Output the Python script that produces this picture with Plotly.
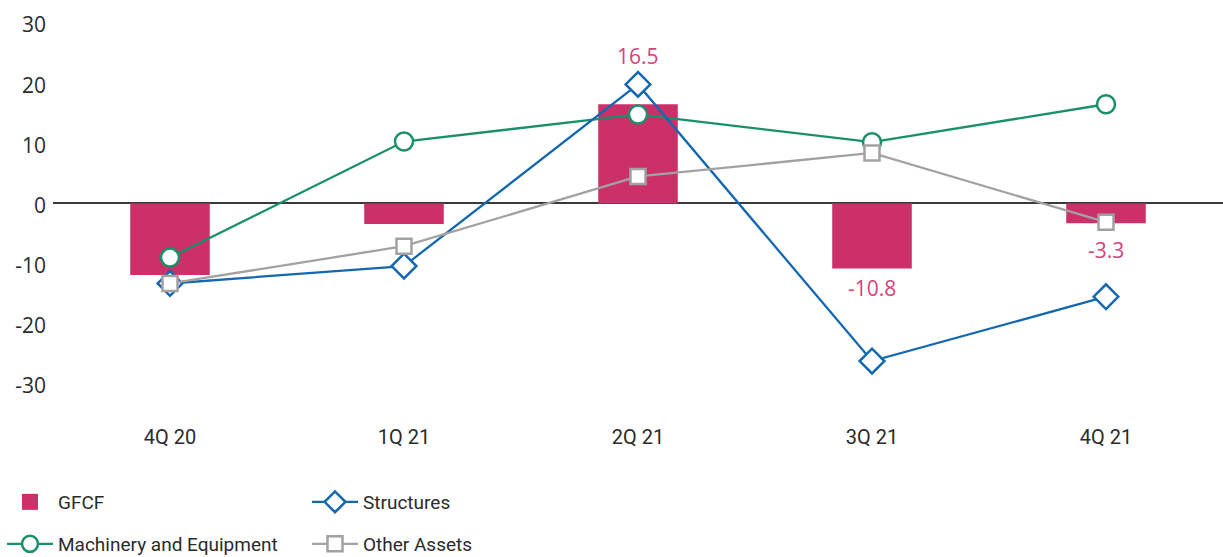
import plotly.graph_objects as go

quarters = ["4Q 20", "1Q 21", "2Q 21", "3Q 21", "4Q 21"]
gfcf = [-11.9, -3.4, 16.5, -10.8, -3.3]
machinery = [-9.0, 10.3, 14.8, 10.2, 16.5]
structures = [-13.3, -10.4, 19.8, -26.2, -15.5]
other_assets = [-13.3, -7.1, 4.5, 8.4, -3.1]

y_tick_values = [-30, -20, -10, 0, 10, 20, 30]
y_tick_labels = ["-30", "-20", "-10", "0", "10", "20", "30"]

# Quarters whose GFCF value is printed, with vertical offset in px
labelled = {"2Q 21": 48, "3Q 21": -20, "4Q 21": -27}

PINK = "#CC3069"
LABEL_PINK = "#D8427A"
GREEN = "#1A9066"
BLUE = "#1468B0"
GREY = "#A2A2A2"
TEXT = "#2b2b2b"

fig = go.Figure()

fig.add_trace(go.Bar(
    x=quarters, y=gfcf, name="GFCF", marker=dict(color=PINK, line=dict(width=0)),
    width=0.34, showlegend=False,
))
# legend swatch for the bars
fig.add_trace(go.Scatter(
    x=[None], y=[None], name="GFCF", mode="markers",
    marker=dict(symbol="square", size=22, color=PINK), legend="legend",
))
fig.add_trace(go.Scatter(
    x=quarters, y=machinery, name="Machinery and Equipment", mode="lines+markers",
    line=dict(color=GREEN, width=2.3),
    marker=dict(symbol="circle", size=18, color="white", line=dict(color=GREEN, width=2.5)),
    legend="legend2",
))
fig.add_trace(go.Scatter(
    x=quarters, y=structures, name="Structures", mode="lines+markers",
    line=dict(color=BLUE, width=2.3),
    marker=dict(symbol="diamond", size=19, color="white", line=dict(color=BLUE, width=2.5)),
    legend="legend3",
))
fig.add_trace(go.Scatter(
    x=quarters, y=other_assets, name="Other Assets", mode="lines+markers",
    line=dict(color=GREY, width=2.3),
    marker=dict(symbol="square", size=15, color="white", line=dict(color=GREY, width=2.5)),
    legend="legend4",
))

for q, shift in labelled.items():
    v = gfcf[quarters.index(q)]
    fig.add_annotation(
        x=q, y=v, text=f"{v:.1f}",
        showarrow=False, yshift=shift,
        font=dict(family="Open Sans, sans-serif", size=21, color=LABEL_PINK),
    )

legend_font = dict(family="Roboto, Open Sans, sans-serif", size=19, color=TEXT)
common = dict(orientation="h", bgcolor="rgba(0,0,0,0)", font=legend_font,
              xref="container", yref="container", itemwidth=46,
              xanchor="left", yanchor="middle", itemclick=False, itemdoubleclick=False)

row1 = (557 - 502) / 557
row2 = (557 - 544) / 557
col1 = 2 / 1223
col2 = 307 / 1223

fig.update_layout(
    width=1223, height=557,
    margin=dict(l=53, r=0, t=5, b=143),
    paper_bgcolor="white", plot_bgcolor="white",
    font=dict(family="Open Sans, sans-serif", size=20, color=TEXT),
    bargap=0.66,
    hovermode=False,
    showlegend=True,
    legend=dict(x=col1, y=row1, **common),
    legend2=dict(x=col1, y=row2, **common),
    legend3=dict(x=col2, y=row1, **common),
    legend4=dict(x=col2, y=row2, **common),
    xaxis=dict(
        range=[-0.5, 4.5], showgrid=False, showline=False, zeroline=False,
        ticks="", ticklabelstandoff=9,
        tickfont=dict(family="Roboto, Open Sans, sans-serif", size=20, color=TEXT),
    ),
    yaxis=dict(
        range=[-35, 33], tickvals=y_tick_values, ticktext=y_tick_labels,
        showgrid=False, showline=False, zeroline=True, zerolinecolor="#3a3a3a",
        zerolinewidth=1.5, ticks="", ticklabelstandoff=6, ticklabelshift=2,
        tickfont=dict(family="Open Sans, sans-serif", size=21, color=TEXT),
    ),
)

fig.write_html("out.html")
